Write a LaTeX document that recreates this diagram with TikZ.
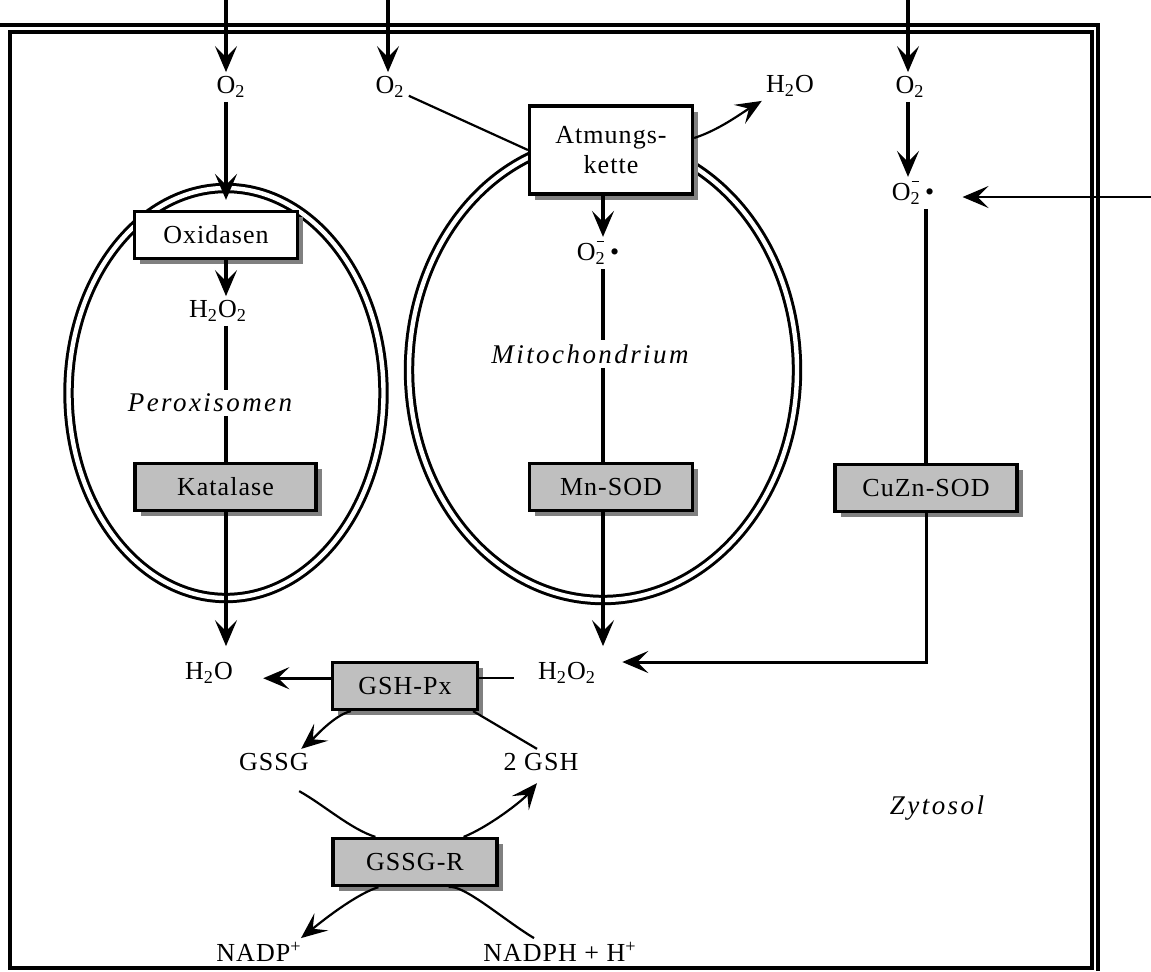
\documentclass[tikz,border=0pt]{standalone}
\usepackage{fontspec}
\setmainfont{Liberation Serif}[LetterSpace=4]
\usepackage{tikz}
\usetikzlibrary{arrows.meta,shadows}

\newcommand{\radikal}{O\rlap{\kern0.04em\rule[0.72em]{0.28em}{0.5pt}}\textsubscript{2}\,\textbullet}

\begin{document}
\begin{tikzpicture}[x=0.5pt,y=-0.5pt,
  lbl/.style={inner sep=2pt,font=\fontsize{13}{15}\selectfont},
  org/.style={inner sep=2pt,font=\fontsize{13.5}{16}\selectfont\itshape\addfontfeatures{LetterSpace=9}},
  enz/.style={draw,line width=1.6pt,fill=white,inner sep=0pt,minimum height=23.5pt,
    font=\fontsize{13}{15}\selectfont,
    drop shadow={shadow xshift=2.8pt,shadow yshift=-2.8pt,fill=black!50,opacity=1}},
  grau/.style={enz,fill=black!25},
  memb/.style={draw,line width=1.5pt,double,double distance=2.2pt},
  spitze/.style={-{Stealth[length=13pt,width=11pt,inset=5.5pt]}},
  pfeil/.style={spitze,line width=1.6pt},
  linie/.style={line width=1.6pt},
  duenn/.style={line width=1.1pt}]

\useasboundingbox (0,0) rectangle (1151,971);

\draw[line width=1.7pt] (10,32) rectangle (1092,968);
\draw[line width=1.7pt] (0,25) -- (1098,25) -- (1098,971);

\draw[memb] (226,393) ellipse [x radius=157.5, y radius=205];
\draw[memb] (603,370) ellipse [x radius=194, y radius=230];

\coordinate (inL) at (226,0);
\coordinate (inM) at (388,0);
\coordinate (inR) at (908,0);
\coordinate (inS) at (1151,197);
\coordinate (colM) at (603,0);
\coordinate (colR) at (926,0);

\node[lbl] (o2L) at (231,87) {O\textsubscript{2}};
\node[lbl] (o2M) at (390,87) {O\textsubscript{2}};
\node[lbl] (o2R) at (910,87) {O\textsubscript{2}};

\node[enz,minimum width=81.5pt] (oxid) at (216,235) {Oxidasen};
\node[lbl] (hhoL) at (218,311) {H\textsubscript{2}O\textsubscript{2}};
\node[org] (perox) at (210,403) {Peroxisomen};
\node[grau,minimum width=90.5pt] (katal) at (225.5,487) {Katalase};
\node[lbl] (wasL) at (209,673) {H\textsubscript{2}O};

\node[enz,minimum width=81.5pt,minimum height=44pt,align=center] (atmung) at (611,150) {Atmungs-\\kette};
\node[lbl] (wasM) at (790,86) {H\textsubscript{2}O};
\node[lbl] (radM) at (598,253) {\radikal};
\node[org] (mito) at (590,354) {Mitochondrium};
\node[grau,minimum width=81.5pt] (mnsod) at (611,487) {Mn-SOD};
\node[lbl] (hhoM) at (567,673) {H\textsubscript{2}O\textsubscript{2}};

\node[lbl] (radR) at (913,193) {\radikal};
\node[grau,minimum width=91pt] (cuzn) at (926,488) {CuZn-SOD};

\node[grau,minimum width=72.5pt] (gshpx) at (405,686) {GSH-Px};
\node[lbl] (gssg) at (274,762) {GSSG};
\node[lbl] (gsh) at (541,762) {2 GSH};
\node[grau,minimum width=82pt] (gssgr) at (415,862) {GSSG-R};
\node[lbl] (nadp) at (259,952) {NADP\textsuperscript{+}};
\node[lbl] (nadph) at (560,952) {NADPH + H\textsuperscript{+}};
\node[org] (zyto) at (937,808) {Zytosol};

\draw[pfeil] (inL) -- (inL |- o2L.north);
\draw[pfeil] (inM) -- (inM |- o2M.north);
\draw[pfeil] (inR) -- (inR |- o2R.north);

\draw[pfeil,shorten >=5pt] (inL |- o2L.south) -- (inL |- oxid.north);
\draw[pfeil] (inL |- oxid.south) -- (inL |- hhoL.north);
\draw[linie] (inL |- hhoL.south) -- (inL |- perox.north);
\draw[linie] (inL |- perox.south) -- (inL |- katal.north);
\draw[pfeil,shorten >=6pt] (inL |- katal.south) -- (inL |- wasL.north);

\draw[duenn] (o2M.-25) -- (atmung.west);
\draw[duenn,spitze] ([yshift=6pt]atmung.east) .. controls +(25,-8) and +(-20,12) .. (wasM.south west);
\draw[pfeil] (colM |- atmung.south) -- (colM |- radM.north);
\draw[linie] (colM |- radM.south) -- (colM |- mito.north);
\draw[linie] (colM |- mito.south) -- (colM |- mnsod.north);
\draw[pfeil,shorten >=6pt] (colM |- mnsod.south) -- (colM |- hhoM.north);

\draw[pfeil] (inR |- o2R.south) -- (inR |- radR.north);
\draw[spitze,line width=1.4pt,shorten >=12pt] (inS) -- (inS -| radR.east);
\draw[linie] (colR |- radR.south) -- (colR |- cuzn.north);
\draw[spitze,line width=1.5pt,shorten >=11pt] (colR |- cuzn.south) |- ([yshift=5.5pt]hhoM.east);

\draw[spitze,line width=1.3pt,shorten >=13pt] (gshpx.174) -- (gshpx.174 -| wasL.east);
\draw[duenn,shorten <=10pt] (hhoM.west |- gshpx.6) -- (gshpx.6);

\draw[duenn,spitze] ([xshift=10pt]gshpx.south west) .. controls +(-17,4) and +(12,-10) .. ([xshift=-6pt]gssg.north east);
\draw[duenn] ([xshift=-3pt]gshpx.south east) -- ([xshift=-2pt]gsh.north);
\draw[duenn] ([xshift=-7pt,yshift=-8pt]gssg.south east) .. controls +(25,14) and +(-25,-8) .. ([xshift=22pt]gssgr.north west);
\draw[duenn,spitze] ([xshift=-17.5pt]gssgr.north east) .. controls +(25,-10) and +(-15,18) .. ([xshift=-2pt,yshift=-4pt]gsh.south);
\draw[duenn,spitze] ([xshift=23.5pt]gssgr.south west) .. controls +(-25,8) and +(15,-12) .. ([xshift=-2.5pt]nadp.north east);
\draw[duenn] ([xshift=-13pt]nadph.north) .. controls +(-30,-18) and +(15,-3) .. ([xshift=-25pt]gssgr.south east);

\end{tikzpicture}
\end{document}
